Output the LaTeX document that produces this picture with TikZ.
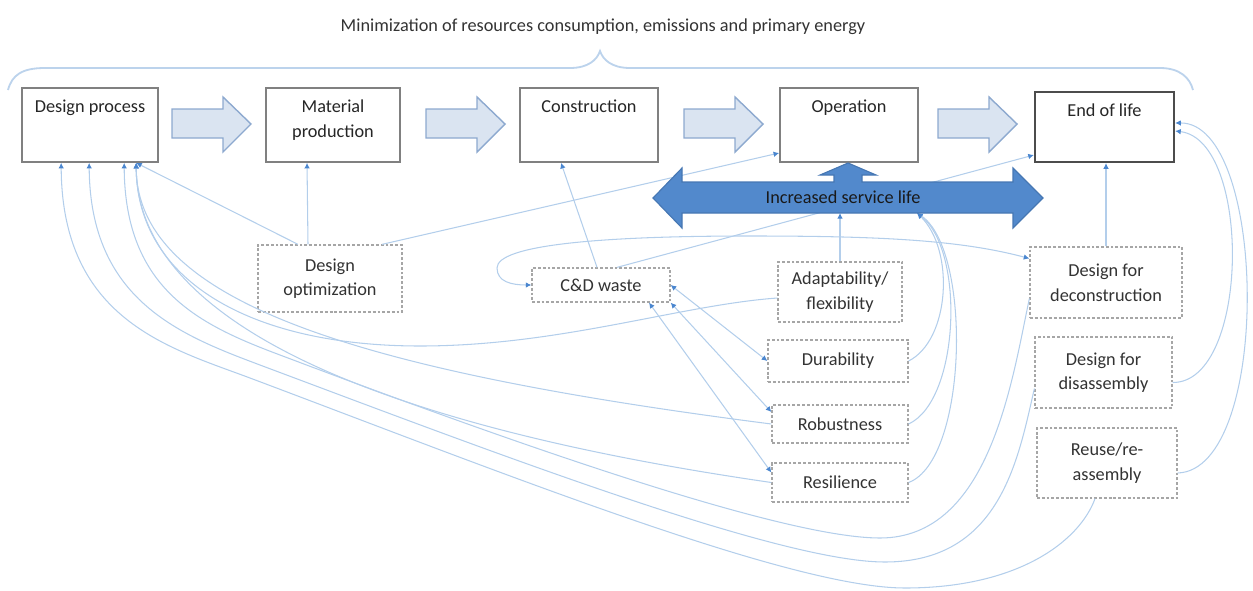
\documentclass[tikz,border=0pt]{standalone}
\usepackage{fontspec}
\setmainfont{Carlito}
\usetikzlibrary{arrows.meta,calc}

\definecolor{linkblue}{HTML}{B3CEEB}
\definecolor{tipblue}{HTML}{4A86CF}
\definecolor{flowfill}{HTML}{DAE4F1}
\definecolor{flowedge}{HTML}{8DA9CF}
\definecolor{lifeblue}{HTML}{5289CC}
\definecolor{lifeedge}{HTML}{4677B3}
\definecolor{braceblue}{HTML}{BCD3EC}

\tikzset{
  stage/.style={draw=black!50, line width=1.2pt, fill=white, minimum height=18.5mm},
  stagetext/.style={anchor=north, align=center, yshift=-2mm, font=\fontsize{13}{17.5}\selectfont, text=black!85},
  factor/.style={draw=black!35, dash pattern=on 2pt off 1.4pt, line width=0.9pt, fill=white, align=center, font=\fontsize{13}{17.5}\selectfont, text=black!80},
  linkarr/.style={draw=linkblue, line width=0.75pt, -{Latex[length=4pt,width=4pt,color=tipblue]}},
  twoway/.style={draw=linkblue, line width=0.75pt, {Latex[length=4pt,width=4pt,color=tipblue]}-{Latex[length=4pt,width=4pt,color=tipblue]}},
  flowarr/.style={fill=flowfill, draw=flowedge, line width=1pt},
}

\begin{document}
\begin{tikzpicture}[x=0.25mm, y=-0.25mm]
\useasboundingbox (0,0) rectangle (1253,590);

% heading and brace
\node[font=\fontsize{13}{15}\selectfont, text=black!80] (title) at (603,27) {Minimization of resources consumption, emissions and primary energy};
\draw[braceblue, line width=1.3pt] (8,90) .. controls (12,75) and (22,68) .. (45,68) -- (570,68)
  .. controls (588,68) and (597,60) .. (600,51) .. controls (603,60) and (612,68) .. (630,68)
  -- (1160,68) .. controls (1180,68) and (1190,78) .. (1193,90);

% life cycle stages
\node[stage, minimum width=34mm, label={[stagetext]north:Design process}] (dp) at (90,125) {};
\node[stage, minimum width=33.5mm, label={[stagetext]north:Material\\production}] (mp) at (333,125) {};
\node[stage, minimum width=34.5mm, label={[stagetext]north:Construction}] (co) at (589,125) {};
\node[stage, minimum width=34.5mm, label={[stagetext]north:Operation}] (op) at (849,125) {};
\node[stage, draw=black!70, line width=1.6pt, minimum width=34.75mm, minimum height=17.5mm,
  label={[stagetext]north:End of life}] (el) at (1104.5,127) {};
\foreach \x in {172,426,684,938}
  \draw[flowarr] (\x,109) -- (\x+51,109) -- (\x+51,97) -- (\x+79,124) -- (\x+51,152) -- (\x+51,138) -- (\x,138) -- cycle;

% strategies
\node[factor, minimum width=36mm, minimum height=16.75mm] (do) at (330,278.5) {Design\\optimization};
\node[factor, minimum width=34.5mm, minimum height=8.5mm] (cd) at (601,285) {C\&D waste};
\node[factor, minimum width=31mm, minimum height=15mm] (ad) at (840,292) {Adaptability/\\flexibility};
\node[factor, minimum width=35mm, minimum height=10.5mm] (du) at (838,361) {Durability};
\node[factor, minimum width=34mm, minimum height=9.5mm] (ro) at (840,424) {Robustness};
\node[factor, minimum width=34mm, minimum height=9.75mm] (re) at (840,482.5) {Resilience};
\node[factor, minimum width=38mm, minimum height=17.75mm] (dfd) at (1106,282.5) {Design for\\deconstruction};
\node[factor, minimum width=34.25mm, minimum height=17.75mm] (dfa) at (1103.5,372.5) {Design for\\disassembly};
\node[factor, minimum width=35mm, minimum height=17.5mm] (rr) at (1107,463) {Reuse/re-\\assembly};

% connectors
\coordinate (dpa) at ([xshift=10mm]dp.south west);
\coordinate (dpb) at ([xshift=17mm]dp.south west);
\coordinate (dpc) at ([xshift=25.75mm]dp.south west);
\coordinate (dpd) at ([xshift=28.75mm]dp.south west);
\coordinate (islmid) at (840,213);
\coordinate (islright) at (917,213);

\draw[linkarr] ([xshift=-8mm]do.north) -- (dpd);
\draw[linkarr] ([xshift=-5.5mm]do.north) -- ([xshift=-6.5mm]mp.south);
\draw[linkarr] ([xshift=13mm]do.north) -- ([yshift=-7mm]op.west);
\draw[linkarr] ([xshift=-1mm]cd.north) -- ([xshift=-7mm]co.south);
\draw[linkarr] ([xshift=4mm]cd.north) -- ([yshift=-7mm]el.west);
\draw[twoway] ([yshift=6mm]dfd.west) .. controls (960,240) and (880,236) .. (750,236)
  .. controls (600,236) and (497,245) .. (497,268) .. controls (497,282) and (512,285) .. (cd.west);
\draw[twoway] (cd.east) -- (du.west);
\draw[twoway] (cd.south east) -- ([yshift=3mm]ro.west);
\draw[twoway] ([xshift=12mm]cd.south) -- ([yshift=2.5mm]re.west);
\draw[linkarr] (ad.north) -- (islmid);
\draw[linkarr] (du.east) .. controls (950,340) and (955,250) .. (islright);
\draw[linkarr] (ro.east) .. controls (960,400) and (965,250) .. (islright);
\draw[linkarr] (re.east) .. controls (968,460) and (972,250) .. (islright);
\draw[linkarr] (dfd.north) -- (dfd.north |- el.south);
\draw[linkarr] ([yshift=-2.5mm]dfa.east) .. controls (1250,383) and (1252,140) .. ([yshift=-1mm]el.east);
\draw[linkarr] ([yshift=-2.5mm]rr.east) .. controls (1272,470) and (1268,122) .. ([yshift=1mm]el.east);

% back to the design process
\draw[linkarr] ([yshift=-1.5mm]ad.west) .. controls (680,305) and (560,346) .. (420,346)
  .. controls (250,346) and (137,280) .. (dpd);
\draw[linkarr] (ro.west) .. controls (350,370) and (137,300) .. (dpd);
\draw[linkarr] (re.west) .. controls (340,420) and (137,310) .. (dpd);
\draw[linkarr] ([yshift=-4mm]dfd.west) .. controls (1012,380) and (990,538) .. (880,538)
  .. controls (780,538) and (500,438) .. (280,355) .. controls (200,325) and (125,290) .. (dpc);
\draw[linkarr] ([yshift=-4mm]dfa.west) .. controls (1018,460) and (1000,562) .. (885,562)
  .. controls (780,562) and (500,455) .. (260,365) .. controls (180,335) and (90,300) .. (dpb);
\draw[linkarr] ([xshift=-3mm]rr.south) .. controls (1080,540) and (1020,588) .. (905,588)
  .. controls (790,588) and (500,472) .. (250,378) .. controls (170,348) and (62,320) .. (dpa);

% increased service life
\draw[fill=lifeblue, draw=lifeedge, line width=0.8pt] (653,198) -- (682,168) -- (682,182) -- (834,182)
  -- (834,175) -- (820,175) -- (848,163) -- (876,175) -- (862,175) -- (862,182) -- (1013,182)
  -- (1013,168) -- (1043,198) -- (1013,228) -- (1013,213) -- (682,213) -- (682,228) -- cycle;
\node[font=\fontsize{13}{15}\selectfont, text=black!90] (isl) at (843,197) {Increased service life};
\end{tikzpicture}
\end{document}
